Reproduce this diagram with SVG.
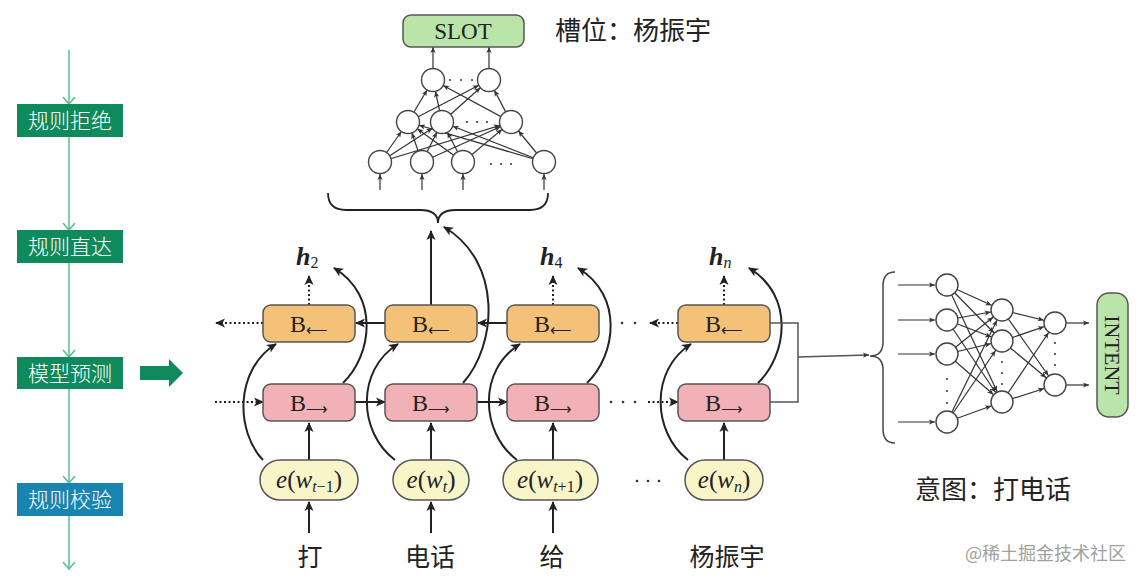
<svg xmlns="http://www.w3.org/2000/svg" width="1143" height="581" viewBox="0 0 1143 581">
<style>
.lbox{stroke:none}
.ltxt{font-family:"Noto Sans CJK SC",sans-serif;font-size:21px;fill:#fff;text-anchor:middle;font-weight:300}
.cjk{font-family:"Noto Sans CJK SC",sans-serif;fill:#222}
.bl{fill:#f4c178;stroke:#555;stroke-width:1.5}
.br{fill:#f2b0b7;stroke:#555;stroke-width:1.5}
.ew{fill:#f8f5c8;stroke:#555;stroke-width:1.5}
.grn{fill:#b9e4aa;stroke:#555;stroke-width:1.5}
.serif{font-family:"Liberation Serif",serif;fill:#222}
.arw{font-family:"DejaVu Sans",sans-serif;font-size:15px;font-weight:300}
.ar{fill:none;stroke:#222;stroke-width:2;marker-end:url(#a)}
.dt{fill:none;stroke:#222;stroke-width:2;stroke-dasharray:2 2.5;marker-end:url(#a)}
.nn{fill:none;stroke:#333;stroke-width:1.2;marker-end:url(#nr)}
.nn0{fill:none;stroke:#333;stroke-width:1.2;marker-end:url(#n0)}
.nd{fill:#fff;stroke:#444;stroke-width:1.4}
.dot{fill:#333}
.gl{fill:none;stroke:#55bf8e;stroke-width:1.5}
</style>
<defs>
<marker id="a" markerUnits="userSpaceOnUse" markerWidth="12" markerHeight="12" refX="0" refY="0" orient="auto" overflow="visible"><path d="M1,0 L-9,-4.5 L-6.5,0 L-9,4.5 z" fill="#222"/></marker>
<marker id="nr" markerUnits="userSpaceOnUse" markerWidth="10" markerHeight="10" refX="11.5" refY="0" orient="auto" overflow="visible"><path d="M0,0 L-6,-2.6 L-4.5,0 L-6,2.6 z" fill="#333"/></marker>
<marker id="n0" markerUnits="userSpaceOnUse" markerWidth="10" markerHeight="10" refX="0" refY="0" orient="auto" overflow="visible"><path d="M0,0 L-6,-2.6 L-4.5,0 L-6,2.6 z" fill="#333"/></marker>
</defs>
<rect width="1143" height="581" fill="#fff"/>

<!-- left flow -->
<g id="connectors-left">
<line class="gl" x1="69" y1="50" x2="69" y2="569"/>
<path class="gl" d="M63,97 L69,104 L75,97 M63,223 L69,230 L75,223 M63,350 L69,357 L75,350 M63,476 L69,483 L75,476 M63,562 L69,569 L75,562"/>
</g>
<g id="n-reject"><rect class="lbox" x="17" y="104" width="106" height="33" fill="#0f8a5c"/><text class="ltxt" x="70" y="128">规则拒绝</text></g>
<g id="n-direct"><rect class="lbox" x="17" y="230" width="106" height="33" fill="#0f8a5c"/><text class="ltxt" x="70" y="254">规则直达</text></g>
<g id="n-model"><rect class="lbox" x="17" y="357" width="106" height="32" fill="#0f8a5c"/><text class="ltxt" x="70" y="381">模型预测</text></g>
<g id="n-check"><rect class="lbox" x="17" y="483" width="106" height="33" fill="#1a84b0"/><text class="ltxt" x="70" y="507">规则校验</text></g>
<g id="big-arrow"><path d="M140,366 L169,366 L169,359 L183,373 L169,387 L169,380 L140,380 z" fill="#0f8a5c"/></g>

<!-- RNN connectors -->
<g id="connectors">
<line class="ar" x1="309" y1="533" x2="309" y2="502"/>
<line class="ar" x1="431" y1="533" x2="431" y2="502"/>
<line class="ar" x1="553" y1="533" x2="553" y2="502"/>
<line class="ar" x1="309" y1="460" x2="309" y2="423"/>
<line class="ar" x1="431" y1="460" x2="431" y2="423"/>
<line class="ar" x1="553" y1="460" x2="553" y2="423"/>
<line class="ar" x1="724" y1="460" x2="724" y2="423"/>
<path class="ar" d="M263,460 C236,432 234,370 276,344"/>
<path class="ar" d="M395,460 C358,432 356,370 398,344"/>
<path class="ar" d="M517,460 C480,432 478,370 520,344"/>
<path class="ar" d="M688,460 C652,432 650,370 691,344"/>
<path class="ar" d="M343,383 C372,355 380,296 334,268"/>
<path class="ar" d="M463,383 C497,345 503,262 444,227"/>
<path class="ar" d="M587,383 C616,355 624,296 578,268"/>
<path class="ar" d="M758,383 C787,355 795,296 749,268"/>
<line class="dt" x1="309" y1="305" x2="309" y2="276"/>
<line class="ar" x1="431" y1="305" x2="431" y2="231"/>
<line class="dt" x1="553" y1="305" x2="553" y2="276"/>
<line class="dt" x1="724" y1="305" x2="724" y2="276"/>
<line class="dt" x1="215" y1="402" x2="263" y2="402"/>
<line class="ar" x1="355" y1="402" x2="385" y2="402"/>
<line class="ar" x1="477" y1="402" x2="507" y2="402"/>
<line class="dt" x1="648" y1="402" x2="678" y2="402"/>
<circle class="dot" cx="611" cy="402" r="1.3"/><circle class="dot" cx="623" cy="402" r="1.3"/><circle class="dot" cx="635" cy="402" r="1.3"/>
<line class="dt" x1="263" y1="323" x2="216" y2="323"/>
<line class="ar" x1="385" y1="323" x2="356" y2="323"/>
<line class="ar" x1="507" y1="323" x2="478" y2="323"/>
<line class="dt" x1="678" y1="323" x2="650" y2="323"/>
<circle class="dot" cx="622" cy="323" r="1.3"/><circle class="dot" cx="635" cy="323" r="1.3"/>
<circle class="dot" cx="637" cy="481" r="1.3"/><circle class="dot" cx="648" cy="481" r="1.3"/><circle class="dot" cx="659" cy="481" r="1.3"/>
<path d="M770,323 L798,323 L798,402 L770,402" fill="none" stroke="#555" stroke-width="1.5"/>
<line x1="798" y1="357" x2="869" y2="355" stroke="#555" stroke-width="1.5" marker-end="url(#n0)"/>
<path d="M328,193 Q328,210 346,210 L420,210 Q438,210 438,223 Q438,210 456,210 L530,210 Q548,210 548,193" fill="none" stroke="#222" stroke-width="1.8"/>
<path d="M895,272 Q883,272 883,286 L883,342 Q883,356 870,356 Q883,356 883,370 L883,429 Q883,443 895,443" fill="none" stroke="#444" stroke-width="1.5"/>
</g>

<g id="connectors-top-nn">
<line class="nn0" x1="380" y1="190" x2="380" y2="174"/>
<line class="nn0" x1="422" y1="190" x2="422" y2="174"/>
<line class="nn0" x1="463" y1="190" x2="463" y2="174"/>
<line class="nn0" x1="544" y1="190" x2="544" y2="174"/>
<line class="nn" x1="380" y1="162" x2="408" y2="122"/><line class="nn" x1="380" y1="162" x2="442" y2="122"/><line class="nn" x1="380" y1="162" x2="511" y2="122"/>
<line class="nn" x1="422" y1="162" x2="408" y2="122"/><line class="nn" x1="422" y1="162" x2="442" y2="122"/><line class="nn" x1="422" y1="162" x2="511" y2="122"/>
<line class="nn" x1="463" y1="162" x2="408" y2="122"/><line class="nn" x1="463" y1="162" x2="442" y2="122"/><line class="nn" x1="463" y1="162" x2="511" y2="122"/>
<line class="nn" x1="544" y1="162" x2="408" y2="122"/><line class="nn" x1="544" y1="162" x2="442" y2="122"/><line class="nn" x1="544" y1="162" x2="511" y2="122"/>
<line class="nn" x1="408" y1="122" x2="433" y2="80"/><line class="nn" x1="408" y1="122" x2="489" y2="80"/>
<line class="nn" x1="442" y1="122" x2="433" y2="80"/><line class="nn" x1="442" y1="122" x2="489" y2="80"/>
<line class="nn" x1="511" y1="122" x2="433" y2="80"/><line class="nn" x1="511" y1="122" x2="489" y2="80"/>
<line class="nn0" x1="433" y1="68" x2="433" y2="47"/>
<line class="nn0" x1="489" y1="68" x2="489" y2="47"/>
</g>
<g id="top-nn-nodes">
<circle class="nd" cx="380" cy="162" r="11.5"/><circle class="nd" cx="422" cy="162" r="11.5"/><circle class="nd" cx="463" cy="162" r="11.5"/><circle class="nd" cx="544" cy="162" r="11.5"/>
<circle class="nd" cx="408" cy="122" r="11.5"/><circle class="nd" cx="442" cy="122" r="11.5"/><circle class="nd" cx="511" cy="122" r="11.5"/>
<circle class="nd" cx="433" cy="80" r="11.5"/><circle class="nd" cx="489" cy="80" r="11.5"/>
<circle class="dot" cx="491" cy="164" r="1"/><circle class="dot" cx="501" cy="164" r="1"/><circle class="dot" cx="511" cy="164" r="1"/>
<circle class="dot" cx="467" cy="122" r="1"/><circle class="dot" cx="477" cy="122" r="1"/><circle class="dot" cx="487" cy="122" r="1"/>
<circle class="dot" cx="450" cy="80" r="1"/><circle class="dot" cx="461" cy="80" r="1"/><circle class="dot" cx="472" cy="80" r="1"/>
</g>
<g id="slot"><rect class="grn" x="403" y="15" width="121" height="32" rx="8"/><text class="serif" x="463" y="39" font-size="23" text-anchor="middle">SLOT</text></g>
<g id="slot-label"><text class="cjk" x="555" y="40" font-size="26">槽位：杨振宇</text></g>

<g id="connectors-right-nn">
<line class="nn0" x1="898" y1="285" x2="935" y2="285"/>
<line class="nn0" x1="898" y1="320" x2="935" y2="320"/>
<line class="nn0" x1="898" y1="354" x2="935" y2="354"/>
<line class="nn0" x1="898" y1="422" x2="935" y2="422"/>
<line class="nn" x1="947" y1="285" x2="1002" y2="310"/><line class="nn" x1="947" y1="285" x2="1002" y2="341"/><line class="nn" x1="947" y1="285" x2="1002" y2="402"/>
<line class="nn" x1="947" y1="320" x2="1002" y2="310"/><line class="nn" x1="947" y1="320" x2="1002" y2="341"/><line class="nn" x1="947" y1="320" x2="1002" y2="402"/>
<line class="nn" x1="947" y1="354" x2="1002" y2="310"/><line class="nn" x1="947" y1="354" x2="1002" y2="341"/><line class="nn" x1="947" y1="354" x2="1002" y2="402"/>
<line class="nn" x1="947" y1="422" x2="1002" y2="310"/><line class="nn" x1="947" y1="422" x2="1002" y2="341"/><line class="nn" x1="947" y1="422" x2="1002" y2="402"/>
<line class="nn" x1="1002" y1="310" x2="1055" y2="323"/><line class="nn" x1="1002" y1="310" x2="1055" y2="385"/>
<line class="nn" x1="1002" y1="341" x2="1055" y2="323"/><line class="nn" x1="1002" y1="341" x2="1055" y2="385"/>
<line class="nn" x1="1002" y1="402" x2="1055" y2="323"/><line class="nn" x1="1002" y1="402" x2="1055" y2="385"/>
<line class="nn0" x1="1066" y1="323" x2="1089" y2="323"/>
<line class="nn0" x1="1066" y1="385" x2="1089" y2="385"/>
</g>
<g id="right-nn-nodes">
<circle class="nd" cx="947" cy="285" r="11"/><circle class="nd" cx="947" cy="320" r="11"/><circle class="nd" cx="947" cy="354" r="11"/><circle class="nd" cx="947" cy="422" r="11"/>
<circle class="nd" cx="1002" cy="310" r="11"/><circle class="nd" cx="1002" cy="341" r="11"/><circle class="nd" cx="1002" cy="402" r="11"/>
<circle class="nd" cx="1055" cy="323" r="11"/><circle class="nd" cx="1055" cy="385" r="11"/>
<circle class="dot" cx="947" cy="379" r="1"/><circle class="dot" cx="947" cy="391" r="1"/><circle class="dot" cx="947" cy="403" r="1"/>
<circle class="dot" cx="1002" cy="362" r="1"/><circle class="dot" cx="1002" cy="373" r="1"/><circle class="dot" cx="1002" cy="384" r="1"/>
<circle class="dot" cx="1055" cy="343" r="1"/><circle class="dot" cx="1055" cy="354" r="1"/><circle class="dot" cx="1055" cy="365" r="1"/>
</g>
<g id="intent"><rect class="grn" x="1097" y="293" width="31" height="124" rx="12"/><text class="serif" font-size="22" text-anchor="middle" dominant-baseline="central" transform="translate(1112.5,355) rotate(90)">INTENT</text></g>
<g id="intent-label"><text class="cjk" x="915" y="499" font-size="26">意图：打电话</text></g>

<g id="bw1"><rect class="bl" x="263" y="305" width="92" height="37" rx="8"/><text class="serif" x="309" y="332" font-size="24" text-anchor="middle">B<tspan class="arw" dy="3">⟵</tspan></text></g>
<g id="bw2"><rect class="bl" x="385" y="305" width="92" height="37" rx="8"/><text class="serif" x="431" y="332" font-size="24" text-anchor="middle">B<tspan class="arw" dy="3">⟵</tspan></text></g>
<g id="bw3"><rect class="bl" x="507" y="305" width="92" height="37" rx="8"/><text class="serif" x="553" y="332" font-size="24" text-anchor="middle">B<tspan class="arw" dy="3">⟵</tspan></text></g>
<g id="bw4"><rect class="bl" x="678" y="305" width="92" height="37" rx="8"/><text class="serif" x="724" y="332" font-size="24" text-anchor="middle">B<tspan class="arw" dy="3">⟵</tspan></text></g>
<g id="fw1"><rect class="br" x="263" y="384" width="92" height="37" rx="8"/><text class="serif" x="309" y="411" font-size="24" text-anchor="middle">B<tspan class="arw" dy="3">⟶</tspan></text></g>
<g id="fw2"><rect class="br" x="385" y="384" width="92" height="37" rx="8"/><text class="serif" x="431" y="411" font-size="24" text-anchor="middle">B<tspan class="arw" dy="3">⟶</tspan></text></g>
<g id="fw3"><rect class="br" x="507" y="384" width="92" height="37" rx="8"/><text class="serif" x="553" y="411" font-size="24" text-anchor="middle">B<tspan class="arw" dy="3">⟶</tspan></text></g>
<g id="fw4"><rect class="br" x="678" y="384" width="92" height="37" rx="8"/><text class="serif" x="724" y="411" font-size="24" text-anchor="middle">B<tspan class="arw" dy="3">⟶</tspan></text></g>
<g id="e1"><rect class="ew" x="260" y="460" width="98" height="40" rx="20"/><text class="serif" x="309" y="488" font-size="25" text-anchor="middle"><tspan font-style="italic">e</tspan>(<tspan font-style="italic">w</tspan><tspan font-size="16" dy="4"><tspan font-style="italic">t</tspan>−1</tspan><tspan dy="-4">)</tspan></text></g>
<g id="e2"><rect class="ew" x="393" y="460" width="76" height="40" rx="20"/><text class="serif" x="431" y="488" font-size="25" text-anchor="middle"><tspan font-style="italic">e</tspan>(<tspan font-style="italic">w</tspan><tspan font-size="16" dy="4" font-style="italic">t</tspan><tspan dy="-4">)</tspan></text></g>
<g id="e3"><rect class="ew" x="503" y="460" width="95" height="40" rx="20"/><text class="serif" x="550" y="488" font-size="25" text-anchor="middle"><tspan font-style="italic">e</tspan>(<tspan font-style="italic">w</tspan><tspan font-size="16" dy="4"><tspan font-style="italic">t</tspan>+1</tspan><tspan dy="-4">)</tspan></text></g>
<g id="e4"><rect class="ew" x="685" y="460" width="78" height="40" rx="20"/><text class="serif" x="724" y="488" font-size="25" text-anchor="middle"><tspan font-style="italic">e</tspan>(<tspan font-style="italic">w</tspan><tspan font-size="16" dy="4" font-style="italic">n</tspan><tspan dy="-4">)</tspan></text></g>

<g id="h-labels">
<text class="serif" x="296" y="265" font-size="26" font-weight="bold" font-style="italic">h<tspan font-size="16" font-weight="normal" font-style="normal" dy="3">2</tspan></text>
<text class="serif" x="540" y="265" font-size="26" font-weight="bold" font-style="italic">h<tspan font-size="16" font-weight="normal" font-style="normal" dy="3">4</tspan></text>
<text class="serif" x="709" y="265" font-size="26" font-weight="bold" font-style="italic">h<tspan font-size="16" font-weight="normal" dy="3">n</tspan></text>
</g>
<g id="words">
<text class="cjk" x="310" y="566" font-size="25" text-anchor="middle">打</text>
<text class="cjk" x="430" y="566" font-size="25" text-anchor="middle">电话</text>
<text class="cjk" x="552" y="566" font-size="25" text-anchor="middle">给</text>
<text class="cjk" x="727" y="566" font-size="25" text-anchor="middle">杨振宇</text>
</g>
<g id="watermark"><text x="965" y="560" font-family="Noto Sans CJK SC,sans-serif" font-size="18" fill="#a0a0a0">@稀土掘金技术社区</text></g>
</svg>
